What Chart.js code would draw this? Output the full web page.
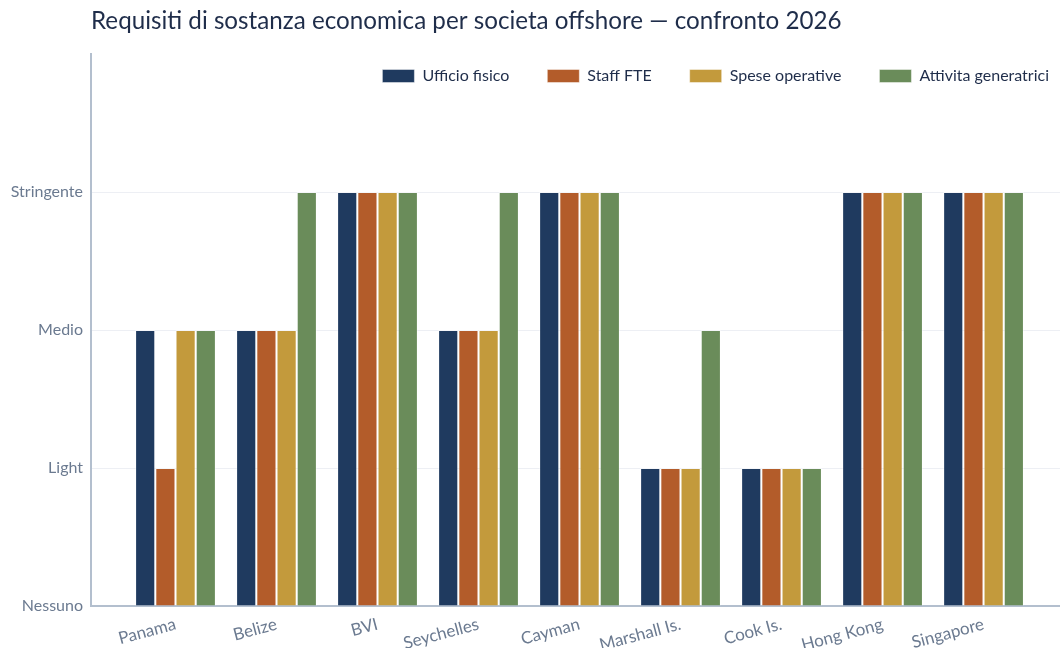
<!DOCTYPE html>
<html>
<head>
<meta charset="utf-8">
<script src="https://cdn.jsdelivr.net/npm/chart.js@4.4.1/dist/chart.umd.min.js"></script>
<style>
html,body{margin:0;padding:0;background:#fff;}
#wrap{width:1060px;height:648px;position:relative;}
</style>
</head>
<body>
<div id="wrap"><canvas id="c" width="1060" height="648"></canvas></div>
<script>
const titleText = 'Requisiti di sostanza economica per societa offshore \u2014 confronto 2026';
const categories = ['Panama','Belize','BVI','Seychelles','Cayman','Marshall Is.','Cook Is.','Hong Kong','Singapore'];
const levelLabels = ['Nessuno','Light','Medio','Stringente'];
const seriesNames = ['Ufficio fisico','Staff FTE','Spese operative','Attivita generatrici'];
const ufficioFisico = [2,2,3,2,3,1,1,3,3];
const staffFTE      = [1,2,3,2,3,1,1,3,3];
const speseOperative= [2,2,3,2,3,1,1,3,3];
const attivitaGen   = [2,3,3,3,3,2,1,3,3];
const seriesColors = ['#1f3a5f','#b35c2a','#c39a3c','#6a8c5a'];

const allSeries = [ufficioFisico, staffFTE, speseOperative, attivitaGen];
const FONT = 'Lato, "Noto Sans", sans-serif';

const titlePlugin = {
  id: 'leftTitle',
  afterDraw(chart) {
    const ctx = chart.ctx;
    ctx.save();
    ctx.font = '24.2px ' + FONT;
    ctx.fillStyle = '#1f2d4a';
    ctx.textBaseline = 'middle';
    ctx.textAlign = 'left';
    ctx.fillText(titleText, chart.chartArea.left, 21);
    ctx.restore();
  }
};
const legendShift = {
  id: 'legendShift',
  afterLayout(chart) {
    const lg = chart.legend;
    if (!lg) return;
    const dy = 30, dx = 27;
    lg.top += dy; lg.bottom += dy;
    lg.left += dx; lg.right += dx;
  }
};

new Chart(document.getElementById('c'), {
  type: 'bar',
  data: {
    datasets: allSeries.map((vals, k) => ({
      label: seriesNames[k],
      data: vals.map((v, i) => ({x: i, y: v})),
      backgroundColor: seriesColors[k],
      borderColor: 'rgba(255,255,255,0.45)',
      borderWidth: 1,
      categoryPercentage: 0.8,
      barPercentage: 1.0
    }))
  },
  options: {
    responsive: false,
    animation: false,
    layout: {padding: {top: 0, left: 0, right: 0, bottom: 0}},
    plugins: {
      title: {display: false},
      tooltip: {enabled: false},
      legend: {
        position: 'top',
        align: 'end',
        maxHeight: 54,
        labels: {
          boxWidth: 32,
          boxHeight: 13,
          padding: 38,
          color: '#1f2d4a',
          font: {family: FONT, size: 16}
        }
      }
    },
    scales: {
      x: {
        type: 'linear',
        offset: false,
        min: -0.8366,
        max: 8.757,
        z: 1,
        afterFit(s) { s.height = 42; },
        grid: {display: false, drawTicks: false},
        border: {display: true, color: '#b3bfce', width: 2},
        ticks: {
          stepSize: 1,
          includeBounds: false,
          autoSkip: false,
          minRotation: 15,
          maxRotation: 15,
          padding: 8,
          color: '#6b7a90',
          font: {family: FONT, size: 17},
          callback: (v) => Number.isInteger(v) && categories[v] !== undefined ? categories[v] : ''
        }
      },
      y: {
        min: 0,
        max: 4,
        z: 1,
        afterFit(s) { s.width = 91; },
        grid: {
          drawTicks: false,
          lineWidth: 1,
          color: (ctx) => (ctx.tick && ctx.tick.value > 0 && ctx.tick.value < 4) ? 'rgba(225,229,236,0.6)' : 'rgba(0,0,0,0)'
        },
        border: {display: true, color: '#b3bfce', width: 2},
        ticks: {
          stepSize: 1,
          padding: 8,
          color: '#6b7a90',
          font: {family: FONT, size: 16},
          callback: (v) => levelLabels[v] !== undefined ? levelLabels[v] : ''
        }
      }
    }
  },
  plugins: [titlePlugin, legendShift]
});
</script>
</body>
</html>
